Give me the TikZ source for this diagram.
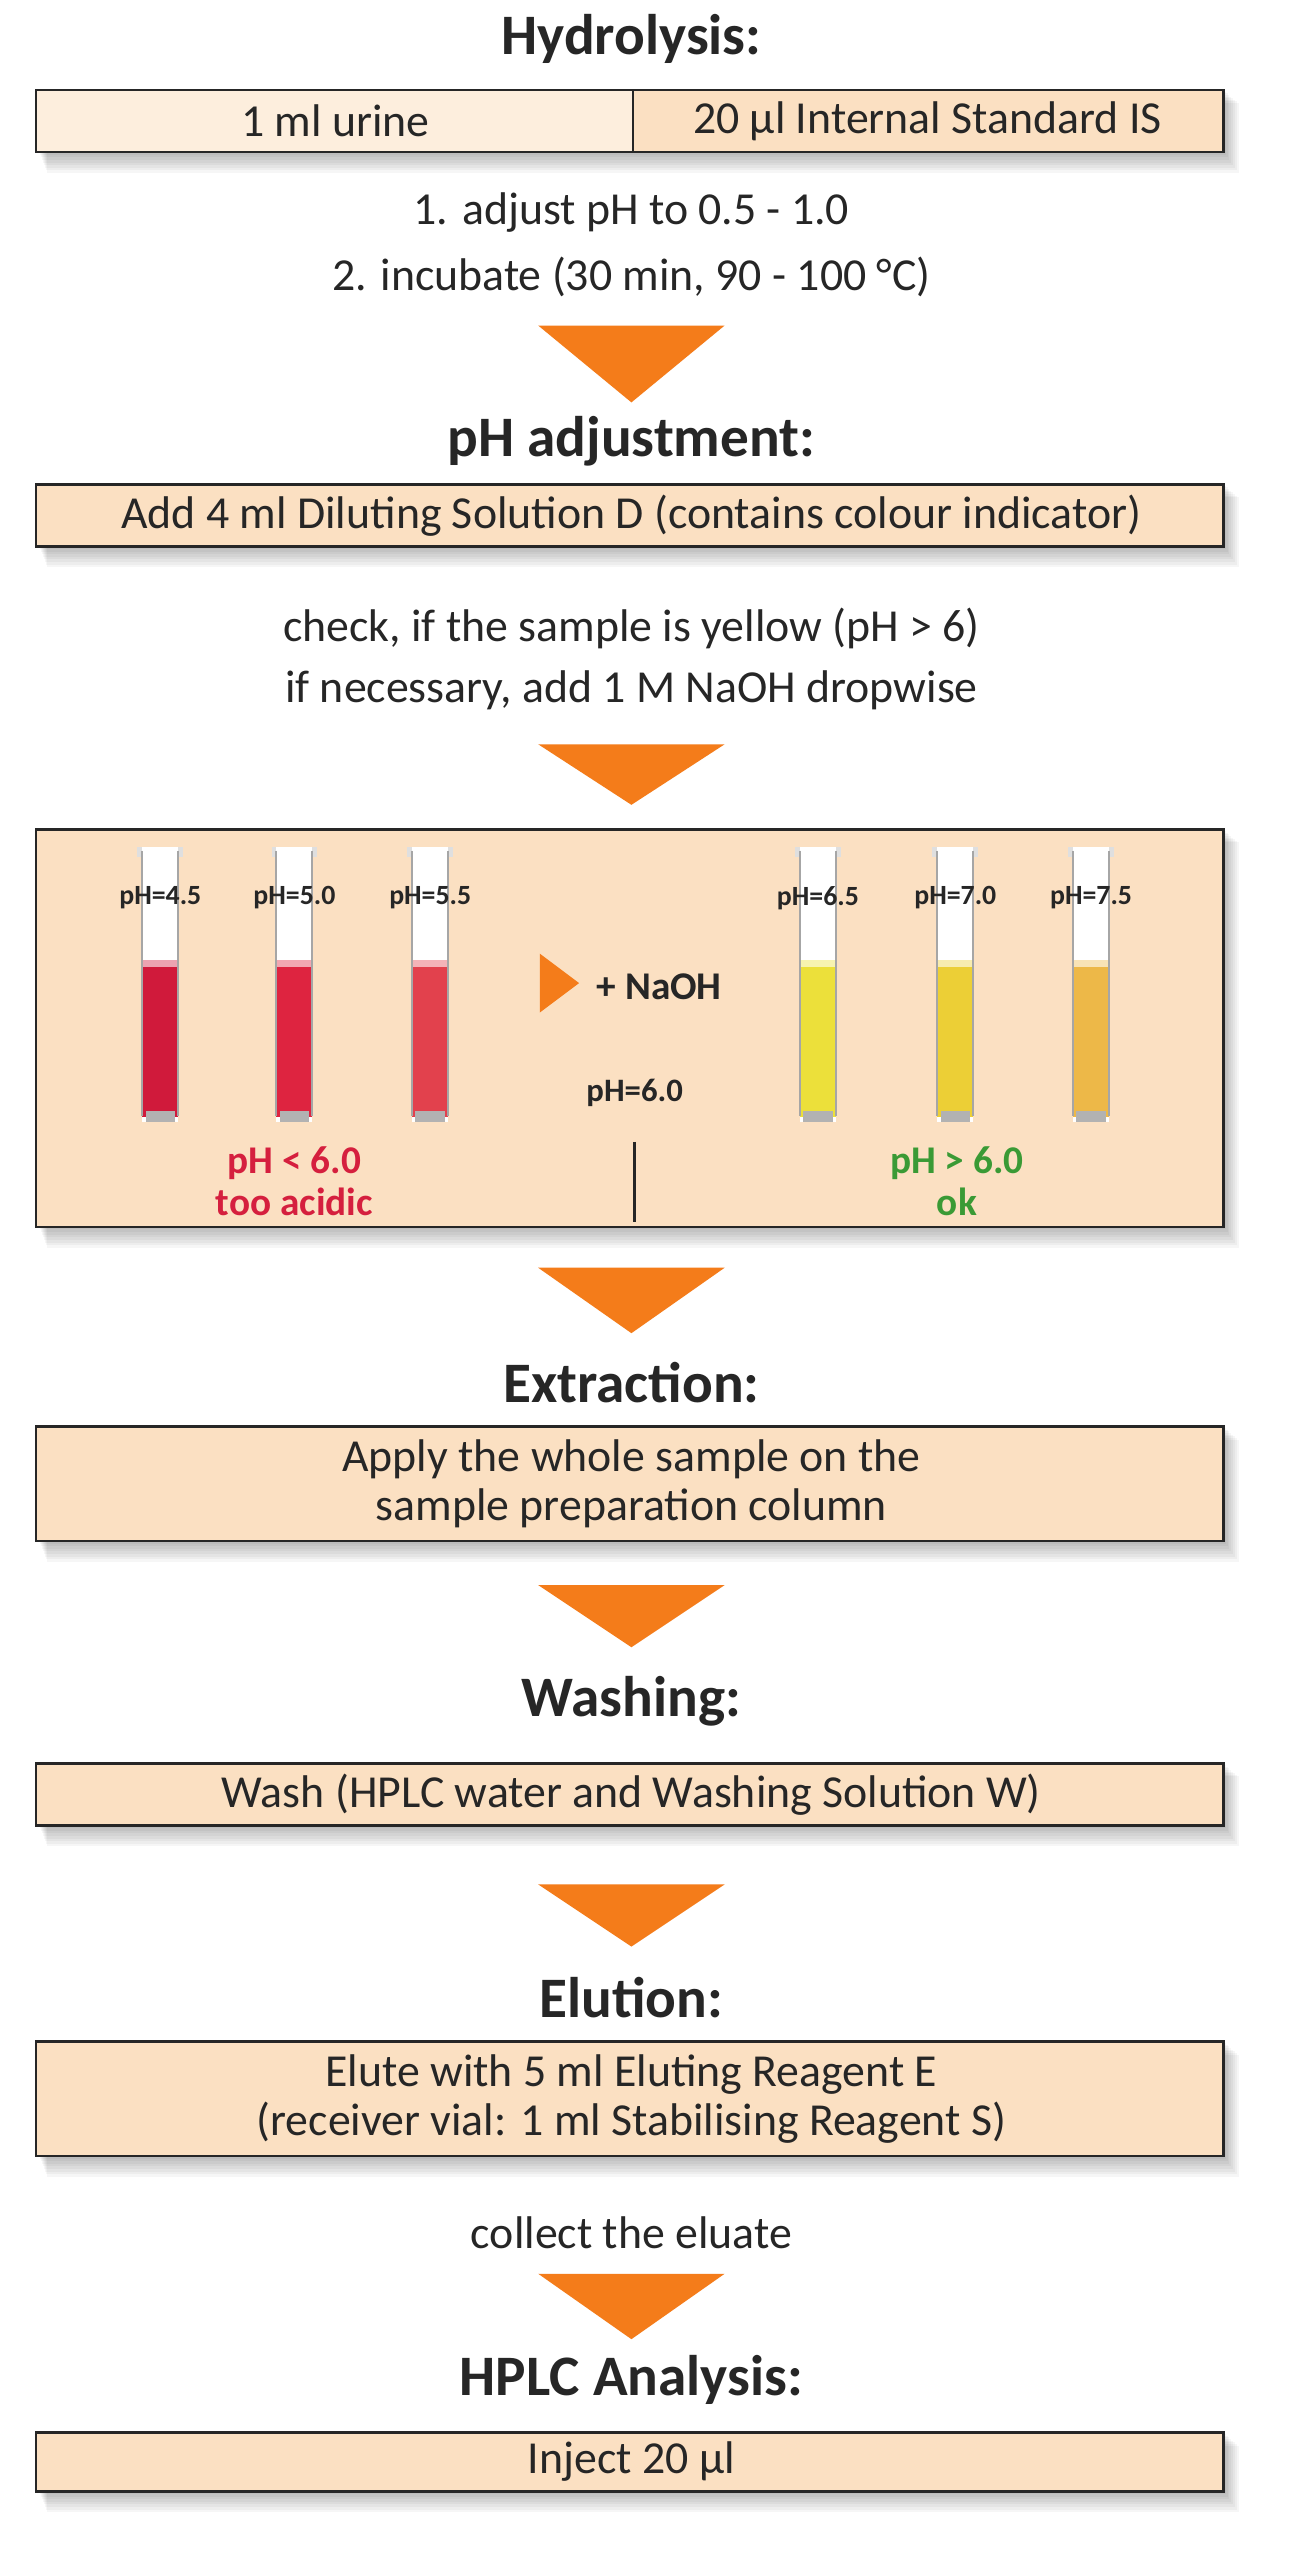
\documentclass[tikz,border=0pt]{standalone}
\usepackage{fontspec}
\setmainfont{Carlito}
\usetikzlibrary{shapes.geometric}
\definecolor{boxf}{HTML}{FBE0C2}
\definecolor{boxl}{HTML}{FDEEDD}
\definecolor{arr}{HTML}{F47C1A}
\definecolor{tred}{HTML}{D51F3E}
\definecolor{tgreen}{HTML}{3A9A35}
\definecolor{ca}{HTML}{D01A3B}
\definecolor{cb}{HTML}{DE2440}
\definecolor{cc}{HTML}{E2414D}
\definecolor{cd}{HTML}{ECE03A}
\definecolor{ce}{HTML}{ECCF36}
\definecolor{cf}{HTML}{EDB848}
\begin{document}
\begin{tikzpicture}[x=1pt,y=-1pt,
  title/.style={font=\fontsize{35}{38}\selectfont\bfseries, text=black!85},
  body/.style={font=\fontsize{28}{30}\selectfont, text=black!85, align=center},
  phl/.style={font=\fontsize{17}{18}\selectfont\bfseries, text=black!85},
  big/.style={font=\fontsize{24}{26}\selectfont\bfseries, align=center}]
\useasboundingbox (0,0) rectangle (790,1565);
\fill[white] (0,0) rectangle (790,1565);
\newcommand{\mybox}[4]{%
  \foreach \i in {1,...,8}{\fill[black,opacity=0.035] (#1+2+\i*0.6,#2+\i) rectangle (#3+\i*1.2,#4+\i*1.6);}
}
\newcommand{\myarrow}[2]{\fill[arr] (329,#1) -- (443,#1) -- (386,#2) -- cycle;}
\newcommand{\tube}[3]{%
  \fill[gray!25] (#1-14,518) rectangle (#1+14,524);
  \fill[white] (#1-11,518) rectangle (#1+11,686);
  \fill[#2] (#1-11,591) rectangle (#1+11,683);
  \fill[#2!40!white] (#1-11,587) rectangle (#1+11,591);
  \draw[gray!70,line width=1.2pt] (#1-11,520) -- (#1-11,682);
  \draw[gray!70,line width=1.2pt] (#1+11,520) -- (#1+11,682);
  \fill[gray!60] (#1-9,679) rectangle (#1+9,686);
  \node[phl] at (#1,549) {pH=#3};
}
\node[title] (t1) at (386,24) {Hydrolysis:};
\mybox{22}{55}{748}{93}
\fill[boxl] (22,55) rectangle (387,93);
\fill[boxf] (387,55) rectangle (748,93);
\draw[line width=1.6pt,black!85] (22,55) rectangle (748,93) (387,55) -- (387,93);
\node[body] (b1a) at (205,74) {1 ml urine};
\node[body] (b1b) at (567,74) {20 µl Internal Standard IS};
\node[body] (s1) at (386,130) {1. adjust pH to 0.5 - 1.0};
\node[body] (s2) at (386,169) {2. incubate (30 min, 90 - 100 °C)};
\myarrow{199}{246}
\node[title] (t2) at (386,270) {pH adjustment:};
\mybox{22}{296}{748}{334}
\draw[line width=1.6pt,black!85,fill=boxf] (22,296) rectangle (748,334);
\node[body] (b2) at (386,315) {Add 4 ml Diluting Solution D (contains colour indicator)};
\node[body] (s3) at (386,384) {check, if the sample is yellow (pH > 6)};
\node[body] (s4) at (386,422) {if necessary, add 1 M NaOH dropwise};
\myarrow{455}{492}
\mybox{22}{507}{748}{750}
\draw[line width=1.6pt,black!85,fill=boxf] (22,507) rectangle (748,750);
\tube{98}{ca}{4.5}
\tube{180}{cb}{5.0}
\tube{263}{cc}{5.5}
\tube{500}{cd}{6.5}
\tube{584}{ce}{7.0}
\tube{667}{cf}{7.5}
\fill[arr] (330,583) -- (354,601) -- (330,619) -- cycle;
\node[phl,font=\fontsize{24}{26}\selectfont\bfseries] (naoh) at (403,603) {+ NaOH};
\node[phl,font=\fontsize{20}{22}\selectfont\bfseries] (p6) at (388,668) {pH=6.0};
\coordinate (la) at (388,698); \coordinate (lb) at (388,747);
\draw[line width=2pt,black!85] (la) -- (lb);
\node[big,text=tred] (acid) at (180,722) {pH < 6.0\\too acidic};
\node[big,text=tgreen] (ok) at (585,722) {pH > 6.0\\ok};
\myarrow{775}{815}
\node[title] (t3) at (386,845) {Extraction:};
\mybox{22}{872}{748}{942}
\draw[line width=1.6pt,black!85,fill=boxf] (22,872) rectangle (748,942);
\node[body] (b4) at (386,907) {Apply the whole sample on the\\sample preparation column};
\myarrow{969}{1007}
\node[title] (t4) at (386,1040) {Washing:};
\mybox{22}{1078}{748}{1116}
\draw[line width=1.6pt,black!85,fill=boxf] (22,1078) rectangle (748,1116);
\node[body] (b5) at (386,1097) {Wash (HPLC water and Washing Solution W)};
\myarrow{1152}{1190}
\node[title] (t5) at (386,1221) {Elution:};
\mybox{22}{1248}{748}{1318}
\draw[line width=1.6pt,black!85,fill=boxf] (22,1248) rectangle (748,1318);
\node[body] (b6) at (386,1283) {Elute with 5 ml Eluting Reagent E\\(receiver vial: 1 ml Stabilising Reagent S)};
\node[body] (s5) at (386,1365) {collect the eluate};
\myarrow{1390}{1430}
\node[title] (t6) at (386,1455) {HPLC Analysis:};
\mybox{22}{1487}{748}{1523}
\draw[line width=1.6pt,black!85,fill=boxf] (22,1487) rectangle (748,1523);
\node[body] (b7) at (386,1505) {Inject 20 µl};
\end{tikzpicture}
\end{document}
